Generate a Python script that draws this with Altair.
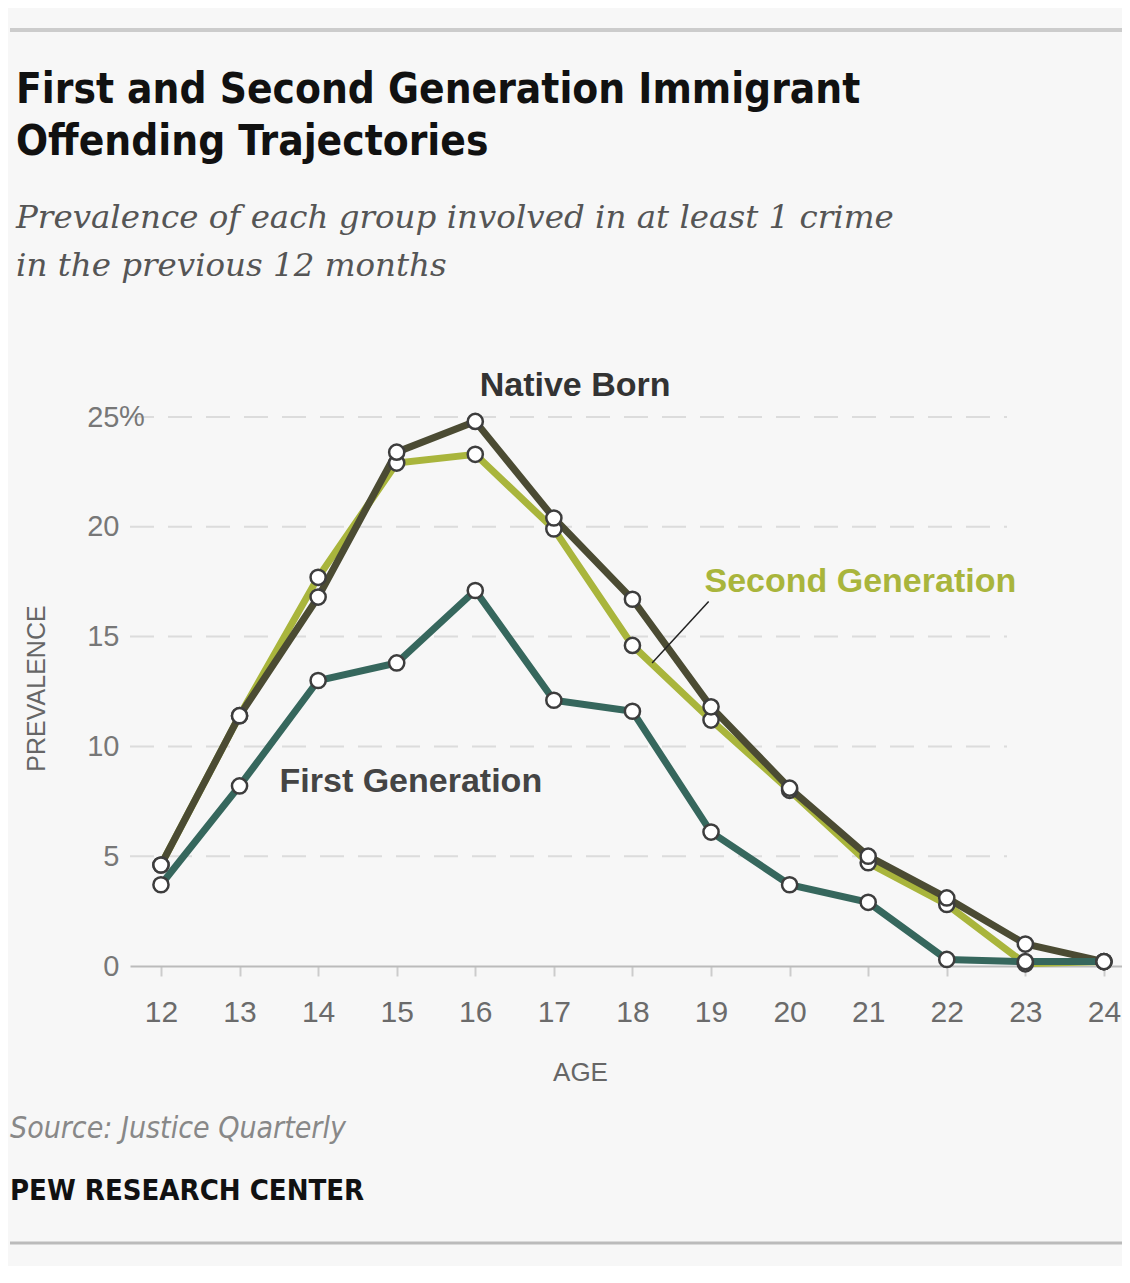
import altair as alt
import pandas as pd

# ---- data ----
ages = [12, 13, 14, 15, 16, 17, 18, 19, 20, 21, 22, 23, 24]
native_born = [4.6, 11.4, 16.8, 23.4, 24.8, 20.4, 16.7, 11.8, 8.1, 5.0, 3.1, 1.0, 0.2]
second_gen = [4.6, 11.4, 17.7, 22.9, 23.3, 19.9, 14.6, 11.2, 8.0, 4.7, 2.8, 0.1, 0.2]
first_gen = [3.7, 8.2, 13.0, 13.8, 17.1, 12.1, 11.6, 6.1, 3.7, 2.9, 0.3, 0.2, 0.2]
y_ticks = [0, 5, 10, 15, 20, 25]
grid_ticks = [5, 10, 15, 20, 25]
pct_tick = [25]

series_names = ["Native Born", "Second Generation", "First Generation"]
series_colors = ["#4b4b33", "#a9b53c", "#36675d"]
label_colors = ["#333333", "#a9b53c", "#444444"]
label_age = [17.27, 20.9, 15.18]
label_val = [25.96, 17.03, 7.92]

leader_age = [18.97]
leader_val = [16.6]
leader_age2 = [18.25]
leader_val2 = [13.8]

title_lines = ["First and Second Generation Immigrant", "Offending Trajectories"]
subtitle_lines = ["Prevalence of each group involved in at least 1 crime",
                  "in the previous 12 months"]
source_text = "Source: Justice Quarterly"
brand_text = "PEW RESEARCH CENTER"

W, H = 992, 549
xscale = alt.Scale(domain=[11.606, 24.23], nice=False, zero=False)
yscale = alt.Scale(domain=[0, 25], nice=False)

def series_df(vals):
    return pd.DataFrame({"age": ages, "value": vals})

x_axis = alt.Axis(values=ages, title="AGE", labelFontSize=30, labelColor="#6b6b6b",
                  labelFont="Liberation Sans", tickColor="#cccccc", tickSize=10, tickWidth=2,
                  domainColor="#bbbbbb", domainWidth=2, labelPadding=21, grid=False,
                  titleFont="Liberation Sans", titleFontSize=26, titleFontWeight="normal",
                  titleColor="#666666", titlePadding=32, titleX=450, titleAnchor="start",
                  titleAlign="center")
y_axis = alt.Axis(values=y_ticks, title="PREVALENCE", grid=False, domain=False, ticks=False,
                  tickSize=0, labelAlign="right", labelPadding=11, labelFontSize=29,
                  labelColor="#777777", labelFont="Liberation Sans",
                  titleFont="Liberation Sans", titleFontSize=25, titleFontWeight="normal",
                  titleColor="#666666", titleX=-94, titleY=271, titleAlign="center",
                  titleBaseline="middle", titleAngle=-90)

def X(field):
    return alt.X(field, scale=xscale, axis=x_axis)

def Y(field):
    return alt.Y(field, scale=yscale, axis=y_axis)

grid = alt.Chart(pd.DataFrame({"age": [12] * len(grid_ticks), "value": grid_ticks})).mark_rule(
    color="#dcdcdc", strokeWidth=2, strokeDash=[24, 14]
).encode(y=Y("value:Q"), x=alt.value(0), x2=alt.value(877))

pct = alt.Chart(pd.DataFrame({"value": pct_tick, "t": ["%"]})).mark_text(
    font="Liberation Sans", fontSize=29, color="#777777", align="left", baseline="middle"
).encode(y=Y("value:Q"), x=alt.value(-11), text="t:N")

layers = [grid, pct]
order = [1, 0, 2]  # draw second gen first, then native, then first gen
series_vals = [native_born, second_gen, first_gen]
for i in order:
    df = series_df(series_vals[i])
    line = alt.Chart(df).mark_line(color=series_colors[i], strokeWidth=7).encode(
        x=X("age:Q"), y=Y("value:Q"))
    layers.append(line)
for i in order:
    df = series_df(series_vals[i])
    pts = alt.Chart(df).mark_point(shape="circle", filled=True, fill="white",
                                   stroke="#3d3d3d", strokeWidth=2.5, size=230, opacity=1).encode(
        x=X("age:Q"), y=Y("value:Q"))
    layers.append(pts)

leader = alt.Chart(pd.DataFrame({"age": leader_age, "value": leader_val,
                                 "age2": leader_age2, "value2": leader_val2})).mark_rule(
    color="#222222", strokeWidth=1.5).encode(
    x=X("age:Q"), y=Y("value:Q"), x2="age2:Q", y2="value2:Q")
layers.append(leader)

for i in range(3):
    lab = alt.Chart(pd.DataFrame({"age": [label_age[i]], "value": [label_val[i]], "t": [series_names[i]]})).mark_text(
        font="Liberation Sans", fontWeight="bold", fontSize=34, color=label_colors[i],
        align="center", baseline="alphabetic").encode(
        x=X("age:Q"), y=Y("value:Q"), text="t:N")
    layers.append(lab)

def text_layer(txt, x, y, size, color, weight="normal", style="normal", font="Liberation Sans"):
    return alt.Chart(pd.DataFrame({"t": [txt]})).mark_text(
        font=font, fontSize=size, color=color, fontWeight=weight, fontStyle=style,
        align="left", baseline="alphabetic").encode(text="t:N", x=alt.value(x), y=alt.value(y))

title_font = "DejaVu Sans Condensed, Liberation Sans Narrow, Liberation Sans"
layers.append(text_layer(title_lines[0], -114, -314, 42, "#111111", "bold", font=title_font))
layers.append(text_layer(title_lines[1], -114, -262, 42, "#111111", "bold", font=title_font))
layers.append(text_layer(subtitle_lines[0], -114, -189, 32.5, "#555555", style="italic", font="DejaVu Serif"))
layers.append(text_layer(subtitle_lines[1], -114, -141, 32.5, "#555555", style="italic", font="DejaVu Serif"))
layers.append(text_layer(source_text, -120, 721, 30, "#888888", style="italic", font=title_font))
layers.append(text_layer(brand_text, -120, 783, 29, "#111111", "bold", font=title_font))

top_rule = alt.Chart(pd.DataFrame({"k": [0]})).mark_rule(color="#cccccc", strokeWidth=4).encode(
    x=alt.value(-120), x2=alt.value(1000), y=alt.value(-387))
bottom_rule = alt.Chart(pd.DataFrame({"k": [0]})).mark_rule(color="#bbbbbb", strokeWidth=3).encode(
    x=alt.value(-120), x2=alt.value(1000), y=alt.value(826))
layers += [top_rule, bottom_rule]

chart = alt.layer(*layers).properties(
    width=W, height=H,
    autosize=alt.AutoSizeParams(type="none"),
    padding={"left": 122, "top": 409, "right": 0, "bottom": 300},
    background="#f7f7f7",
).configure_view(stroke=None)

chart.save("out.html", embed_options={"renderer": "svg", "actions": False})
